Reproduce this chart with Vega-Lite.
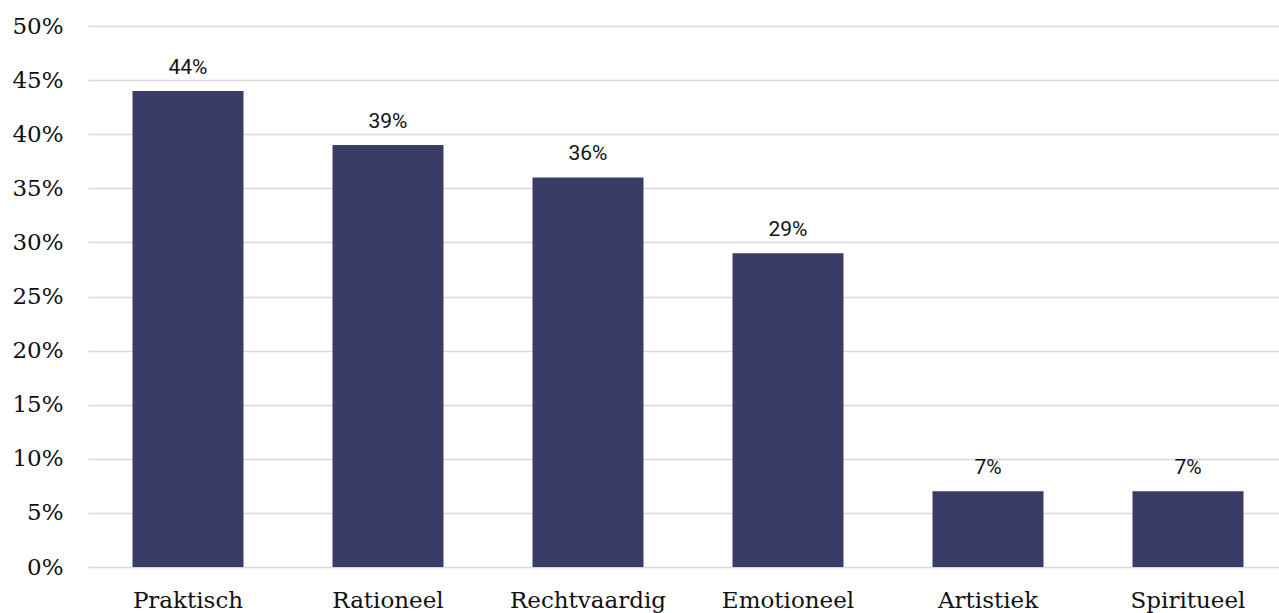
{
  "$schema": "https://vega.github.io/schema/vega-lite/v6.json",
  "width": 1200,
  "height": 541,
  "autosize": "none",
  "padding": {"left": 88, "top": 26, "right": 0, "bottom": 46},
  "background": "white",
  "config": {"view": {"stroke": null}},
  "data": {
    "values": [
      {"categorie": "Praktisch", "waarde": 0.44},
      {"categorie": "Rationeel", "waarde": 0.39},
      {"categorie": "Rechtvaardig", "waarde": 0.36},
      {"categorie": "Emotioneel", "waarde": 0.29},
      {"categorie": "Artistiek", "waarde": 0.07},
      {"categorie": "Spiritueel", "waarde": 0.07}
    ]
  },
  "encoding": {
    "x": {
      "field": "categorie",
      "type": "nominal",
      "sort": null,
      "scale": {"paddingInner": 0.445, "paddingOuter": 0.2225},
      "axis": {
        "title": null,
        "labelAngle": 0,
        "domain": false,
        "ticks": false,
        "labelFont": "DejaVu Serif",
        "labelFontSize": 23,
        "labelColor": "#111111",
        "labelBaseline": "alphabetic",
        "labelPadding": 40
      }
    },
    "y": {
      "field": "waarde",
      "type": "quantitative",
      "scale": {"domain": [0, 0.5], "nice": false},
      "axis": {
        "title": null,
        "format": ".0%",
        "values": [0, 0.05, 0.1, 0.15, 0.2, 0.25, 0.3, 0.35, 0.4, 0.45, 0.5],
        "domain": false,
        "ticks": false,
        "grid": true,
        "gridColor": "#d9d9d9",
        "gridWidth": 1.5,
        "labelFont": "DejaVu Serif",
        "labelFontSize": 23,
        "labelColor": "#111111",
        "labelPadding": 25
      }
    }
  },
  "layer": [
    {"mark": {"type": "bar", "color": "#383c66"}},
    {
      "mark": {"type": "text", "font": "Roboto", "fontSize": 21, "color": "#111111", "baseline": "alphabetic", "dy": -17},
      "encoding": {"text": {"field": "waarde", "type": "quantitative", "format": ".0%"}}
    }
  ]
}
